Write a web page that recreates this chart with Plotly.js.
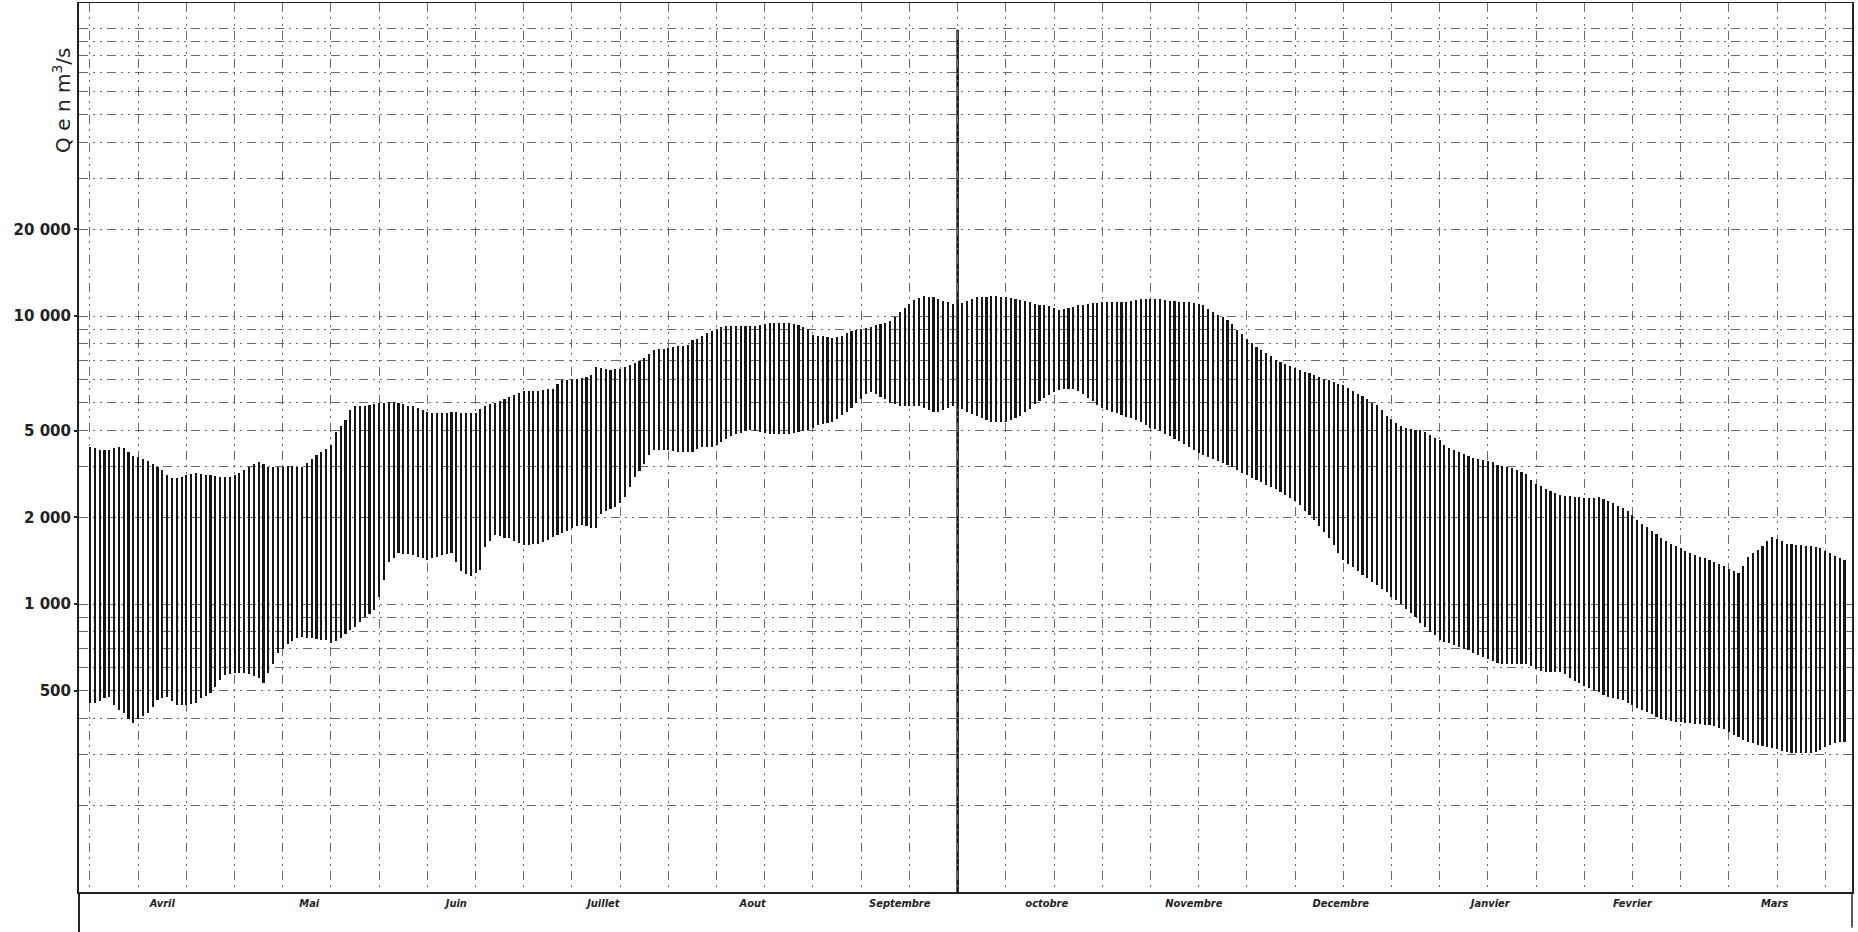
<!DOCTYPE html>
<html>
<head>
<meta charset="utf-8">
<script src="https://cdn.plot.ly/plotly-3.0.1.min.js"></script>
<style>
html,body{margin:0;padding:0;background:#fff;}
#chart{width:1858px;height:932px;}
</style>
</head>
<body>
<div id="chart"></div>
<script>
// Hydrological year starting 1 April: daily maximum and minimum discharge (m3/s)
const months = ["Avril","Mai","Juin","Juillet","Aout","Septembre","octobre","Novembre","Decembre","Janvier","Fevrier","Mars"];
const monthDays = [30,31,30,31,31,30,31,30,31,31,28,31];

const yTickVals = [500, 1000, 2000, 4000, 10000, 20000];
const yTickText = ["500", "1 000", "2 000", "5 000", "10 000", "20 000"];

const qMax = [
3520,3480,3430,3430,3430,3470,3520,3470,3380,3270,
3230,3190,3130,3070,3000,2920,2800,2740,2740,2770,
2810,2830,2850,2830,2810,2800,2790,2770,2770,2770,
2800,2850,2920,3000,3060,3120,3060,3000,3000,3000,
3000,3010,3010,3000,3000,3100,3190,3290,3380,3450,
3560,3950,4150,4350,4700,4870,4880,4890,4920,4950,
4980,5000,5020,5010,4990,4940,4890,4870,4800,4720,
4650,4620,4600,4590,4620,4650,4630,4610,4590,4590,
4590,4750,4870,4950,5000,5060,5150,5220,5320,5420,
5500,5500,5500,5510,5530,5560,5600,5800,6000,6020,
6040,6060,6080,6150,6230,6660,6600,6540,6520,6540,
6560,6650,6760,6850,6980,7130,7400,7640,7660,7680,
7720,7780,7840,7900,7950,8230,8350,8500,8700,8840,
9050,9160,9200,9230,9250,9250,9250,9250,9250,9320,
9400,9450,9450,9450,9450,9450,9350,9300,9150,9000,
8600,8550,8500,8450,8400,8450,8500,8700,8900,8960,
9050,9100,9180,9300,9380,9450,9600,9950,10300,10700,
11000,11370,11550,11700,11650,11600,11500,11300,11200,11050,
11050,11100,11300,11450,11600,11650,11680,11700,11700,11680,
11620,11550,11450,11370,11250,11150,11050,10950,10880,10820,
10650,10530,10580,10650,10750,10880,10950,11020,11100,11130,
11170,11200,11200,11200,11200,11200,11300,11380,11450,11450,
11450,11450,11420,11370,11320,11270,11220,11200,11150,11100,
11000,10900,10600,10330,10100,9900,9690,9350,8960,8650,
8300,8050,7800,7640,7450,7250,7035,6900,6800,6700,
6600,6500,6400,6330,6250,6150,6050,6000,5900,5830,
5760,5640,5500,5380,5280,5150,5000,4900,4700,4500,
4380,4250,4150,4100,4060,4030,4010,3950,3860,3780,
3700,3560,3480,3430,3380,3330,3270,3210,3190,3160,
3130,3110,3050,3020,2990,2960,2930,2880,2830,2700,
2620,2560,2500,2470,2430,2400,2380,2370,2360,2350,
2340,2340,2330,2350,2320,2280,2240,2190,2150,2100,
2030,1960,1900,1850,1800,1750,1700,1650,1620,1590,
1560,1530,1500,1480,1460,1440,1420,1400,1380,1350,
1320,1300,1280,1360,1460,1500,1540,1590,1650,1710,
1680,1650,1620,1610,1600,1600,1590,1590,1580,1560,
1530,1500,1470,1440,1420
];

const qMin = [
452,455,460,470,476,446,430,417,400,385,
400,410,417,440,464,470,476,460,446,446,
446,448,452,470,480,490,515,545,567,570,
575,575,575,570,562,555,531,575,620,674,
700,725,745,760,770,765,760,755,752,750,
735,745,765,790,810,833,865,900,920,950,
1060,1211,1400,1450,1500,1495,1490,1480,1460,1440,
1420,1440,1460,1480,1490,1500,1400,1300,1270,1250,
1280,1310,1580,1650,1730,1720,1700,1690,1660,1630,
1600,1605,1610,1620,1640,1670,1710,1740,1770,1800,
1830,1860,1880,1860,1840,1830,2060,2100,2130,2170,
2250,2350,2550,2760,2900,3070,3300,3430,3430,3430,
3420,3400,3380,3380,3380,3380,3450,3515,3515,3515,
3580,3660,3740,3820,3900,3940,3980,4010,4000,3960,
3930,3900,3900,3900,3900,3900,3930,3950,3980,4010,
4100,4170,4210,4250,4300,4400,4530,4650,4800,4980,
5150,5350,5460,5380,5250,5150,4980,4930,4880,4870,
4870,4870,4870,4800,4730,4660,4650,4720,4800,4870,
4870,4750,4650,4580,4480,4410,4350,4270,4270,4270,
4270,4340,4420,4500,4650,4770,4930,5080,5200,5300,
5450,5530,5560,5590,5600,5500,5380,5200,5050,4920,
4800,4700,4650,4590,4530,4470,4410,4360,4300,4200,
4100,4050,3980,3900,3820,3750,3680,3600,3500,3420,
3350,3300,3240,3180,3130,3080,3030,2980,2920,2860,
2800,2750,2700,2650,2600,2550,2500,2450,2390,2330,
2280,2200,2100,2030,1950,1860,1780,1700,1600,1500,
1420,1380,1340,1300,1260,1230,1190,1160,1130,1100,
1060,1030,1000,960,930,900,860,830,800,780,
750,740,730,720,710,700,690,675,665,655,
645,635,625,620,620,620,620,620,620,610,
595,585,583,583,583,583,570,555,540,531,
520,510,503,495,485,476,472,468,464,455,
445,437,430,422,414,406,400,395,392,390,
388,387,385,384,383,381,380,376,372,367,
360,352,345,337,333,328,324,321,318,316,
314,310,306,303,303,303,303,303,306,311,
318,325,329,331,333
];

// day index from 1 April
const days = qMax.map((_, i) => i);
const span = qMax.map((v, i) => v - qMin[i]);

// month label positions: middle of each month
const monthMid = [];
let acc = 0;
for (const n of monthDays) { monthMid.push(acc + n / 2); acc += n; }

const gridColor = "#6a6a6a";
const gridDash = "9px,5px,2px,5px,2px,5px";

const trace = {
  type: "bar",
  x: days,
  base: qMin,
  y: span,
  width: 0.44,
  marker: {color: "#161616", line: {width: 0}},
  hoverinfo: "skip"
};

const layout = {
  width: 1858, height: 932,
  margin: {l: 79, r: 6, t: 3, b: 40, pad: 0},
  paper_bgcolor: "#fff", plot_bgcolor: "#fff",
  showlegend: false,
  bargap: 0,
  xaxis: {
    range: [-2.28, 365.56],
    tickmode: "array", tickvals: monthMid, ticktext: months,
    ticks: "", showgrid: false, zeroline: false,
    showline: true, linecolor: "#222", linewidth: 1.5, mirror: true,
    tickfont: {family: "DejaVu Sans Condensed", size: 11, color: "#222", style: "italic", weight: "bold"},
    minor: {tick0: 0, dtick: 10, showgrid: true, gridcolor: gridColor, griddash: gridDash, gridwidth: 1, ticks: ""}
  },
  yaxis: {
    type: "log",
    range: [2, 5.087],
    tickmode: "array", tickvals: yTickVals, ticktext: yTickText,
    ticks: "outside", ticklen: 3, tickwidth: 2, tickcolor: "#222",
    showgrid: true, gridcolor: gridColor, griddash: gridDash, gridwidth: 1,
    zeroline: false,
    showline: true, linecolor: "#222", linewidth: 2, mirror: true,
    tickfont: {family: "DejaVu Sans", size: 15, color: "#222", weight: "bold"},
    minor: {dtick: "D1", showgrid: true, gridcolor: gridColor, griddash: gridDash, gridwidth: 1, ticks: ""}
  },
  shapes: [
    {type: "line", xref: "x", yref: "paper", x0: 180, x1: 180, y0: 0, y1: 0.97, layer: "below", line: {color: "#111", width: 2.5}},
    {type: "line", xref: "paper", yref: "paper", x0: 0, x1: 0, y0: 0, y1: -0.045, line: {color: "#222", width: 2}},
    {type: "line", xref: "paper", yref: "paper", x0: 1, x1: 1, y0: 0, y1: -0.04, line: {color: "#222", width: 1.5}}
  ],
  annotations: [
    {xref: "paper", yref: "paper", x: -0.0096, y: 0.891, xanchor: "center", yanchor: "middle",
     textangle: -90, showarrow: false,
     text: "Q e n m<sup>3</sup>/s",
     font: {family: "DejaVu Sans", size: 20, color: "#222"}}
  ]
};

Plotly.newPlot("chart", [trace], layout, {displayModeBar: false, staticPlot: true});
</script>
</body>
</html>
